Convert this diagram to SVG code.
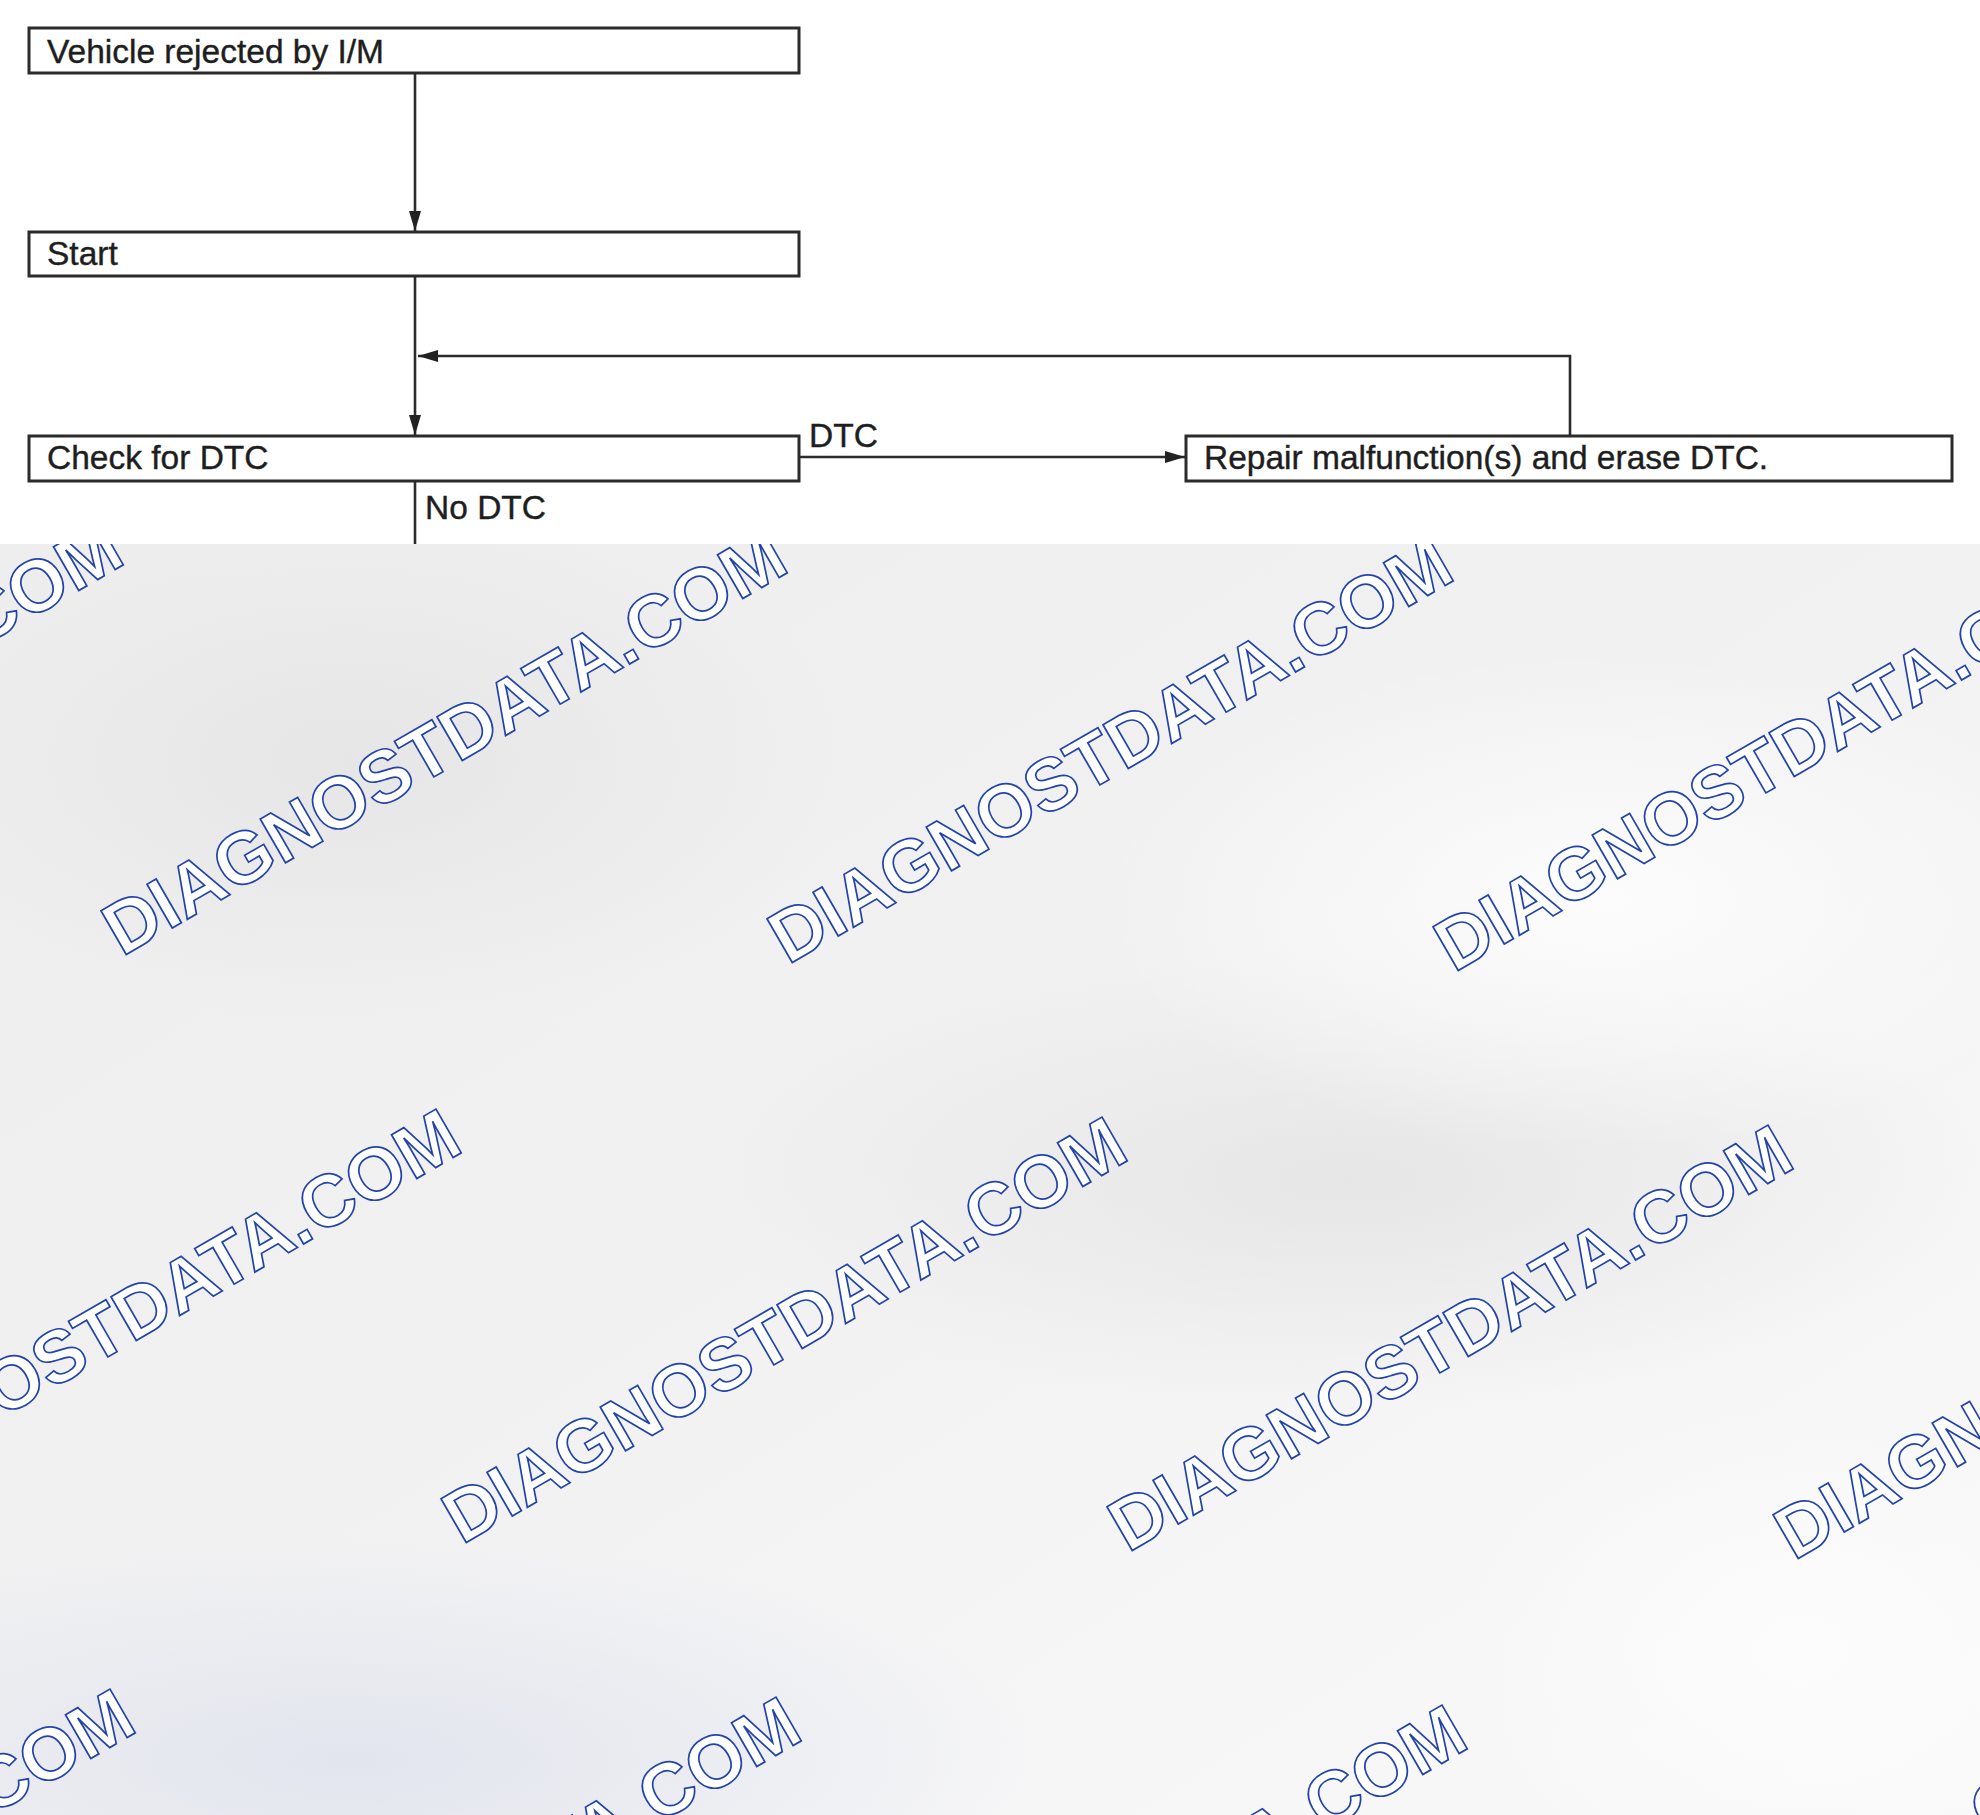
<svg xmlns="http://www.w3.org/2000/svg" width="1980" height="1815" viewBox="0 0 1980 1815">
<defs>
<style>
.box{fill:#ffffff;stroke:#2b2b2b;stroke-width:3}
.lbl{font-family:"Liberation Sans",Arial,sans-serif;font-size:33.5px;fill:#1e1e1e;stroke:#1e1e1e;stroke-width:0.4}
.ln{fill:none;stroke:#2b2b2b;stroke-width:2.6}
.wm{font-family:"Liberation Sans",Arial,sans-serif;font-weight:bold;font-size:73.5px;fill:#ffffff;stroke:#2244aa;stroke-width:1.7;stroke-linejoin:miter}
</style>
<marker id="ah" viewBox="0 0 20 12" refX="20" refY="6" markerWidth="20" markerHeight="12" markerUnits="userSpaceOnUse" orient="auto">
<path d="M0,0 L20,6 L0,12 Z" fill="#222222"/>
</marker>
<linearGradient id="bg" x1="0" y1="0" x2="1" y2="1">
<stop offset="0" stop-color="#eeeeee"/>
<stop offset="0.45" stop-color="#f1f1f2"/>
<stop offset="0.75" stop-color="#f6f6f7"/>
<stop offset="1" stop-color="#f9f9fa"/>
</linearGradient>
<radialGradient id="b1" cx="0.5" cy="0.5" r="0.5">
<stop offset="0" stop-color="#e2e5ee" stop-opacity="1"/>
<stop offset="1" stop-color="#e2e5ee" stop-opacity="0"/>
</radialGradient>
<radialGradient id="b2" cx="0.5" cy="0.5" r="0.5">
<stop offset="0" stop-color="#e6e6e7" stop-opacity="1"/>
<stop offset="1" stop-color="#e6e6e7" stop-opacity="0"/>
</radialGradient>
<radialGradient id="b3" cx="0.5" cy="0.5" r="0.5">
<stop offset="0" stop-color="#fcfcfd" stop-opacity="1"/>
<stop offset="1" stop-color="#fcfcfd" stop-opacity="0"/>
</radialGradient>
<clipPath id="wmclip"><rect x="0" y="544" width="1980" height="1271"/></clipPath>
</defs>

<rect x="0" y="0" width="1980" height="1815" fill="#ffffff"/>

<g id="background">
<rect x="0" y="544" width="1980" height="1271" fill="url(#bg)"/>
<g clip-path="url(#wmclip)">
<ellipse cx="350" cy="1760" rx="700" ry="220" fill="url(#b1)"/>
<ellipse cx="350" cy="760" rx="500" ry="260" fill="url(#b2)"/>
<ellipse cx="1350" cy="1180" rx="650" ry="230" fill="url(#b2)"/>
<ellipse cx="1600" cy="900" rx="500" ry="250" fill="url(#b3)"/>
<ellipse cx="1800" cy="1650" rx="350" ry="250" fill="url(#b3)"/>
</g>
</g>

<g id="watermarks" clip-path="url(#wmclip)">
<text class="wm" transform="translate(-542,949) rotate(-30)">DIAGNOSTDATA.COM</text>
<text class="wm" transform="translate(122,957) rotate(-30)">DIAGNOSTDATA.COM</text>
<text class="wm" transform="translate(788,965) rotate(-30)">DIAGNOSTDATA.COM</text>
<text class="wm" transform="translate(1454,973) rotate(-30)">DIAGNOSTDATA.COM</text>
<text class="wm" transform="translate(-204,1537) rotate(-30)">DIAGNOSTDATA.COM</text>
<text class="wm" transform="translate(462,1545) rotate(-30)">DIAGNOSTDATA.COM</text>
<text class="wm" transform="translate(1128,1553) rotate(-30)">DIAGNOSTDATA.COM</text>
<text class="wm" transform="translate(1794,1561) rotate(-30)">DIAGNOSTDATA.COM</text>
<text class="wm" transform="translate(-530,2117) rotate(-30)">DIAGNOSTDATA.COM</text>
<text class="wm" transform="translate(136,2125) rotate(-30)">DIAGNOSTDATA.COM</text>
<text class="wm" transform="translate(802,2133) rotate(-30)">DIAGNOSTDATA.COM</text>
<text class="wm" transform="translate(1468,2141) rotate(-30)">DIAGNOSTDATA.COM</text>
</g>

<g id="connectors">
<line class="ln" x1="415" y1="73" x2="415" y2="231" marker-end="url(#ah)"/>
<line class="ln" x1="415" y1="276" x2="415" y2="435" marker-end="url(#ah)"/>
<line class="ln" x1="415" y1="481" x2="415" y2="544"/>
<polyline class="ln" points="1570,436 1570,356 418,356" marker-end="url(#ah)"/>
<line class="ln" x1="799" y1="457" x2="1185" y2="457" marker-end="url(#ah)"/>
<text class="lbl" x="809" y="447">DTC</text>
<text class="lbl" x="425" y="519">No DTC</text>
</g>

<g id="node-vehicle-rejected">
<rect class="box" x="29" y="28" width="770" height="45"/>
<text class="lbl" x="47" y="63">Vehicle rejected by I/M</text>
</g>
<g id="node-start">
<rect class="box" x="29" y="232" width="770" height="44"/>
<text class="lbl" x="47" y="265">Start</text>
</g>
<g id="node-check-dtc">
<rect class="box" x="29" y="436" width="770" height="45"/>
<text class="lbl" x="47" y="469">Check for DTC</text>
</g>
<g id="node-repair">
<rect class="box" x="1186" y="436" width="766" height="45"/>
<text class="lbl" x="1204" y="469">Repair malfunction(s) and erase DTC.</text>
</g>
</svg>
